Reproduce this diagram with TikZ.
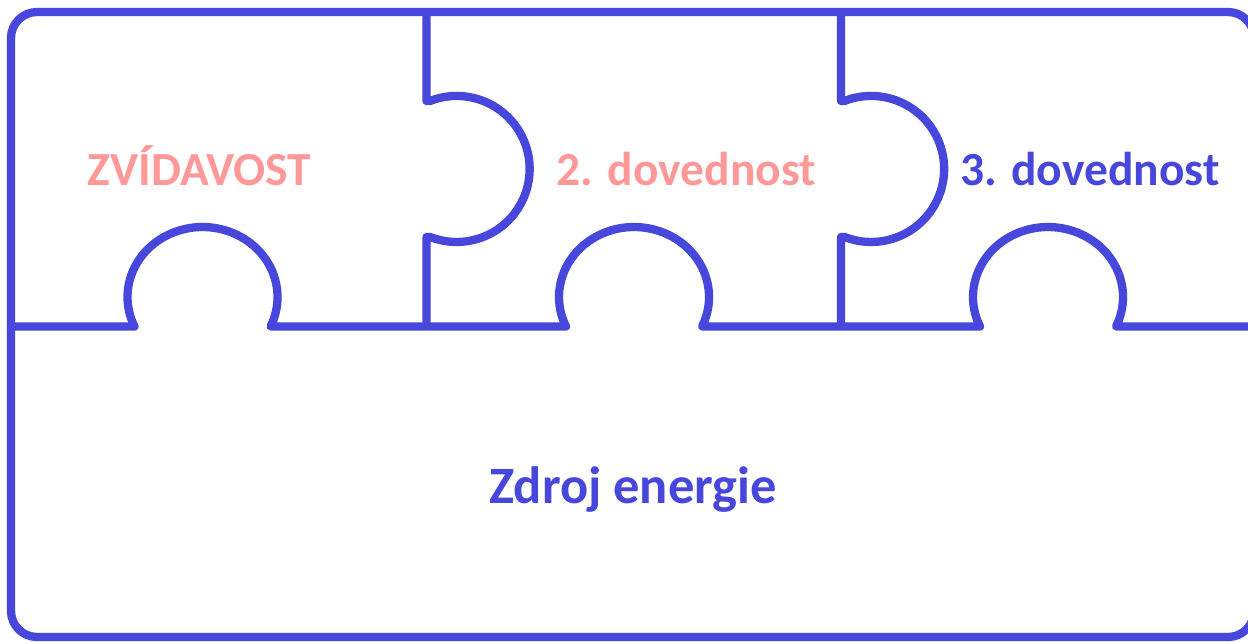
\documentclass[tikz,border=0pt]{standalone}
\usepackage{fontspec}
\setmainfont{Carlito}
\definecolor{puzblue}{RGB}{71,71,220}
\definecolor{puzpink}{RGB}{255,153,153}
\begin{document}
\begin{tikzpicture}[x=1pt,y=1pt,
  edge/.style={draw=puzblue,line width=8.3pt,line join=round},
  lbl/.style={font=\fontsize{47.5}{57}\selectfont\bfseries,anchor=base,inner sep=0pt}]
\useasboundingbox (0,0) rectangle (1248,641);
\fill[white] (0,0) rectangle (1248,641);
% outer frame
\draw[edge,rounded corners=26pt] (11,629) rectangle (1254,4);
% horizontal seam with three upward knobs
\draw[edge] (11,314.5) -- (134.5,314.5)
  arc[start angle=204.9,end angle=-24.9,x radius=75,y radius=70] -- (566,314.5)
  arc[start angle=204.9,end angle=-24.9,x radius=75,y radius=70] -- (980,314.5)
  arc[start angle=204.9,end angle=-24.9,x radius=75,y radius=70] -- (1254,314.5);
% vertical seams with right knobs
\foreach \dx in {426.5,841}{
  \draw[edge] (\dx,629) -- (\dx,540) -- (\dx+3.5,540)
    arc[start angle=111.4,end angle=-111.4,radius=73] -- (\dx,404) -- (\dx,314.5);
}
\node[lbl,text=puzpink] (zvid) at (199.5,455) {ZVÍDAVOST};
\node[lbl,text=puzpink] (dov2) at (686.5,455) {2. dovednost};
\node[lbl,text=puzblue] (dov3) at (1090,455) {3. dovednost};
\node[lbl,text=puzblue,font=\fontsize{52.5}{62}\selectfont\bfseries] (zdroj) at (633,138) {Zdroj energie};
\end{tikzpicture}
\end{document}
